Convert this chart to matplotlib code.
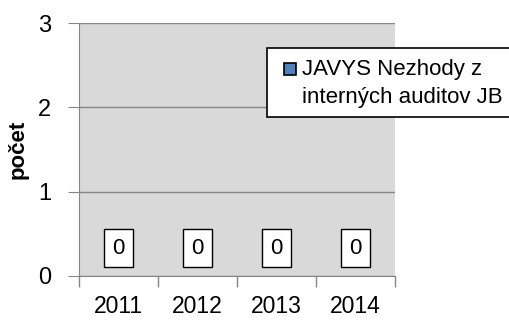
import matplotlib.pyplot as plt
from matplotlib.patches import Rectangle

years = ["2011", "2012", "2013", "2014"]
values = [0, 0, 0, 0]
series_name = ["JAVYS Nezhody z", "interných auditov JB"]

plt.rcParams["font.family"] = ["Liberation Sans", "DejaVu Sans"]

fig = plt.figure(figsize=(5.1, 3.2), dpi=100)
ax = fig.add_axes([79 / 510, 1 - 276 / 320, 316 / 510, 253 / 320])

ax.set_facecolor("#D9D9D9")
x = range(len(years))
ax.bar(x, values, width=0.6, color="#4F81BD", linewidth=0)
for xi, v in zip(x, values):
    ax.annotate(str(v), (xi, v), xytext=(0, 20), textcoords="offset points",
                ha="center", va="center", fontsize=16,
                bbox=dict(boxstyle="square,pad=0.38", fc="white", ec="black", lw=1))

ax.set_xlim(-0.5, len(years) - 0.5)
ax.set_ylim(0, 3)
ax.set_yticks([0, 1, 2, 3])
ax.set_xticks([i - 0.5 for i in range(len(years) + 1)])
ax.set_xticklabels([])
ax.set_xticks(list(x), minor=True)
ax.set_xticklabels(years, minor=True, fontsize=16.5)
ax.tick_params(axis="x", which="major", length=8, color="#868686", width=1)
ax.tick_params(axis="x", which="minor", length=0, pad=14)
ax.tick_params(axis="y", length=8, color="#868686", labelsize=17, pad=12)
ax.grid(axis="y", color="#868686", lw=1)
ax.set_axisbelow(True)
for s in ["top", "right"]:
    ax.spines[s].set_visible(False)
for s in ["left", "bottom"]:
    ax.spines[s].set_color("#868686")
ax.set_ylabel("počet", fontsize=16, fontweight="bold", labelpad=7)

# legend box, drawn by hand to keep the Excel look (handle beside first line)
fig.patches.append(Rectangle((267 / 510, 1 - 117 / 320), 260 / 510, 69 / 320,
                             transform=fig.transFigure, fc="white", ec="black",
                             lw=1.2, clip_on=False))
fig.patches.append(Rectangle((284 / 510, 1 - 75 / 320), 12 / 510, 12 / 320,
                             transform=fig.transFigure, fc="#4F81BD", ec="black",
                             lw=1.2))
fig.text(302 / 510, 1 - 75 / 320, series_name[0], fontsize=16, va="baseline", ha="left")
fig.text(302 / 510, 1 - 103 / 320, series_name[1], fontsize=16, va="baseline", ha="left")

fig.savefig("out.png", dpi=100)
